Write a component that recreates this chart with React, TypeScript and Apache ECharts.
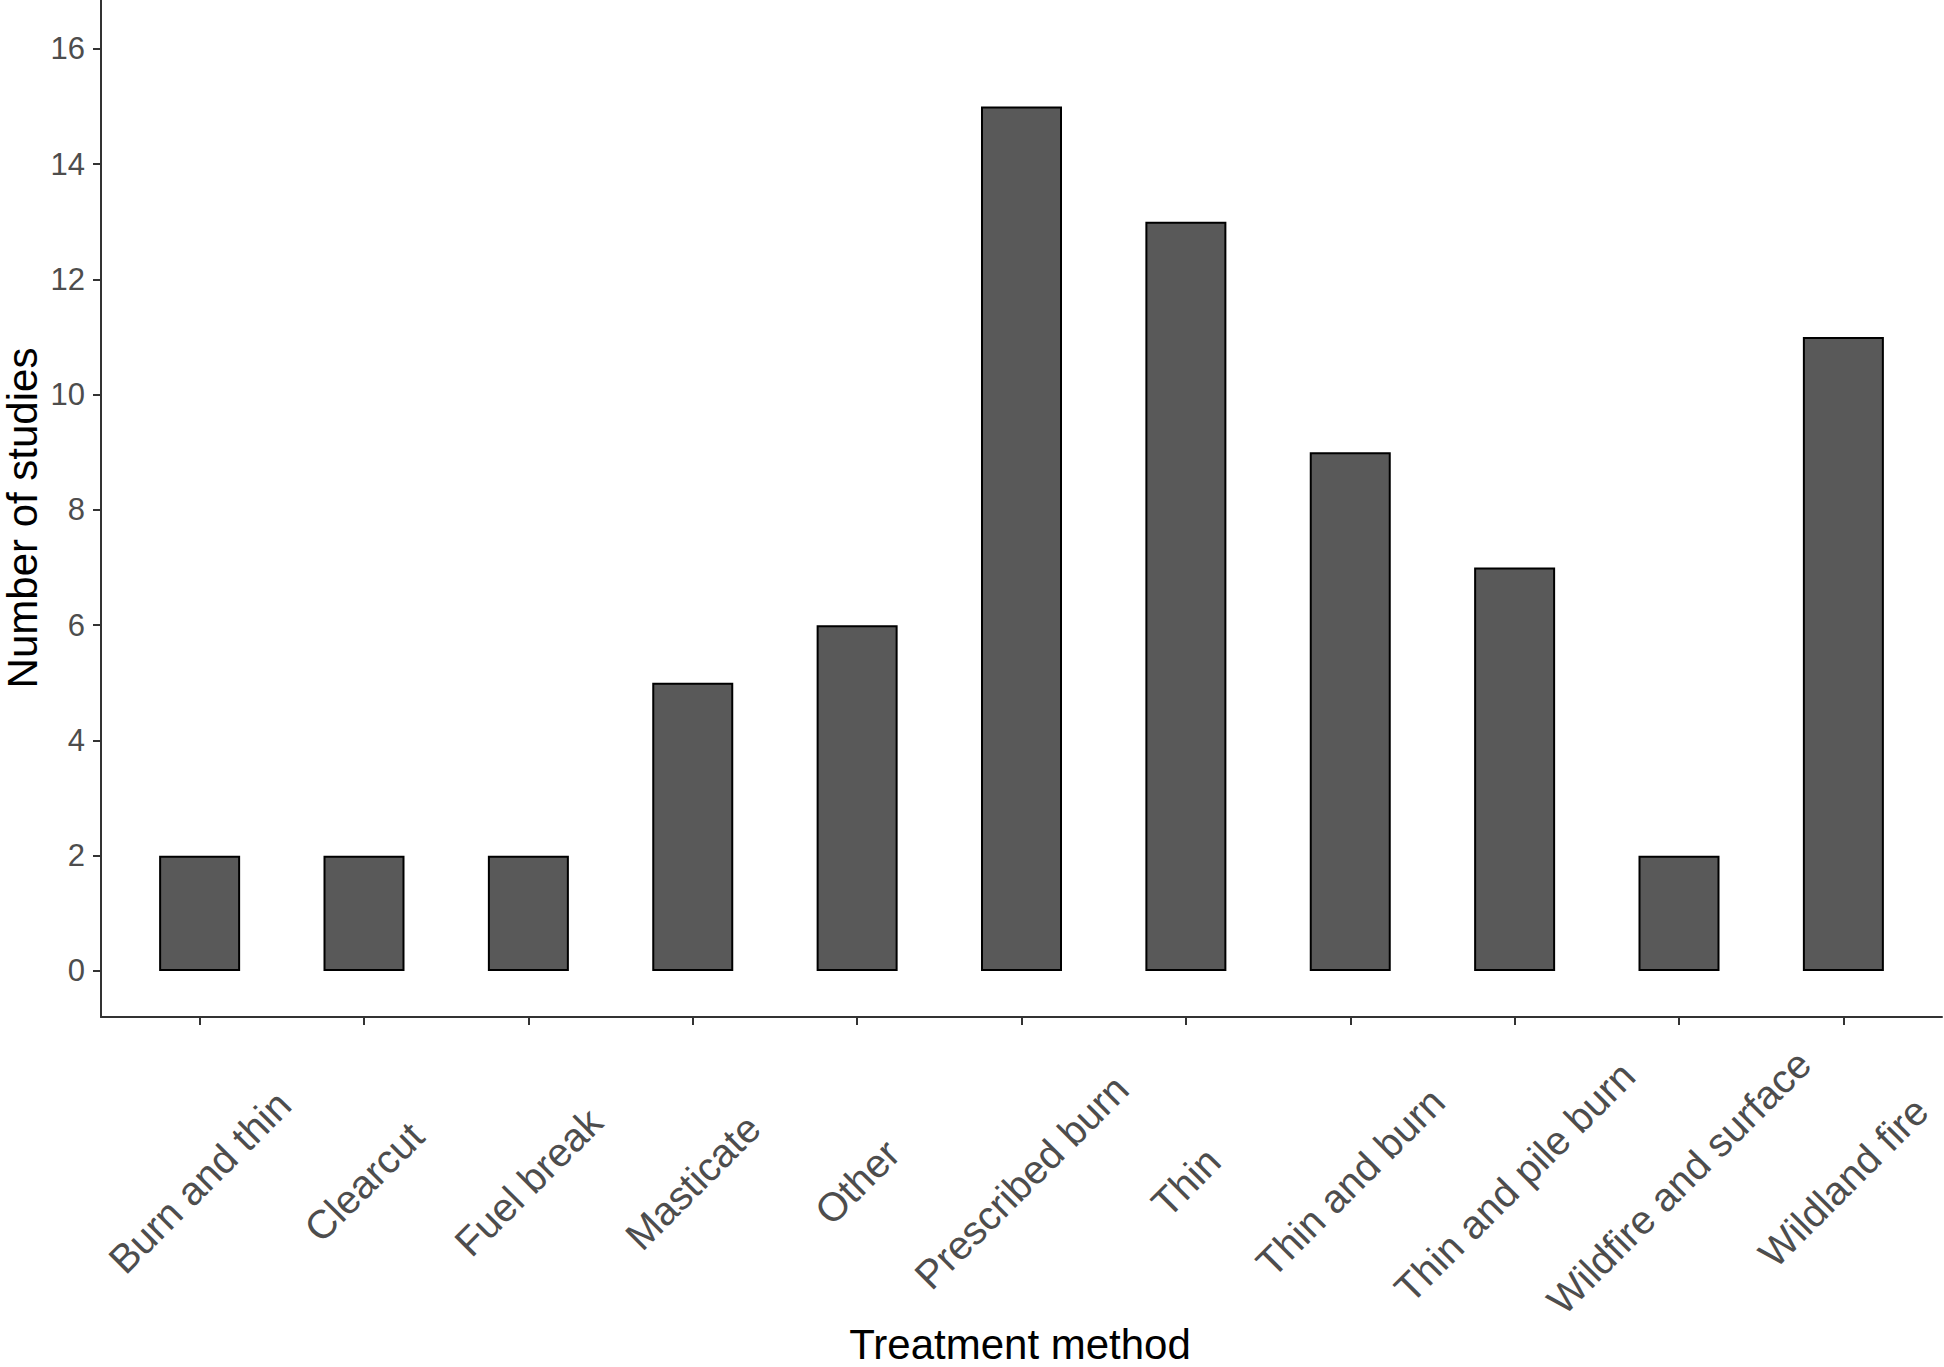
import React, { useEffect, useRef } from "react";
import * as echarts from "echarts";

const categories = [
  "Burn and thin",
  "Clearcut",
  "Fuel break",
  "Masticate",
  "Other",
  "Prescribed burn",
  "Thin",
  "Thin and burn",
  "Thin and pile burn",
  "Wildfire and surface",
  "Wildland fire",
];
const studyCounts = [2, 2, 2, 5, 6, 15, 13, 9, 7, 2, 11];
const yTicks = [0, 2, 4, 6, 8, 10, 12, 14, 16];
const xPositions = categories.map((_, i) => i + 1);

export default function App() {
  const ref = useRef<HTMLDivElement>(null);
  useEffect(() => {
    if (!ref.current) return;
    const chart = echarts.init(ref.current, null, { renderer: "svg" });
    const axisColor = "#333333";
    const font = "Liberation Sans, Arial, sans-serif";
    chart.setOption({
      animation: false,
      backgroundColor: "#ffffff",
      textStyle: { fontFamily: font },
      grid: {
        left: 101,
        right: 2,
        top: 0,
        bottom: 350,
        containLabel: false,
        outerBoundsMode: "none",
      },
      xAxis: {
        type: "value",
        min: 0.4,
        max: 11.6,
        splitLine: { show: false },
        axisLine: { show: true, onZero: false, lineStyle: { color: axisColor, width: 2 } },
        axisTick: {
          show: true,
          customValues: xPositions,
          length: 8,
          lineStyle: { color: axisColor, width: 2 },
        },
        axisLabel: {
          show: true,
          customValues: xPositions,
          formatter: (v: number) => categories[Math.round(v) - 1] ?? "",
          rotate: 45,
          align: "center",
          verticalAlign: "middle",
          margin: 165,
          fontSize: 40,
          color: "#4D4D4D",
          fontFamily: font,
        },
      },
      yAxis: {
        type: "value",
        min: -0.8,
        max: 16.85,
        splitLine: { show: false },
        axisLine: { show: true, onZero: false, lineStyle: { color: axisColor, width: 2 } },
        axisTick: {
          show: true,
          customValues: yTicks,
          length: 8,
          lineStyle: { color: axisColor, width: 2 },
        },
        axisLabel: {
          show: true,
          customValues: yTicks,
          margin: 16,
          fontSize: 31,
          color: "#4D4D4D",
          fontFamily: font,
        },
      },
      series: [
        {
          type: "bar",
          data: categories.map((_, i) => [xPositions[i], studyCounts[i]]),
          barWidth: 81,
          itemStyle: {
            color: "#595959",
            borderColor: "#000000",
            borderWidth: 2,
          },
        },
      ],
      graphic: [
        {
          type: "text",
          x: 22,
          y: 518,
          rotation: Math.PI / 2,
          style: {
            text: "Number of studies",
            fontSize: 42,
            fill: "#000000",
            align: "center",
            verticalAlign: "middle",
            fontFamily: font,
          },
        },
        {
          type: "text",
          x: 1020,
          y: 1344,
          style: {
            text: "Treatment method",
            fontSize: 42,
            fill: "#000000",
            align: "center",
            verticalAlign: "middle",
            fontFamily: font,
          },
        },
      ],
    });
    return () => chart.dispose();
  }, []);
  return (
    <div
      ref={ref}
      style={{ position: "absolute", left: 0, top: 0, width: 1944, height: 1367 }}
    />
  );
}
